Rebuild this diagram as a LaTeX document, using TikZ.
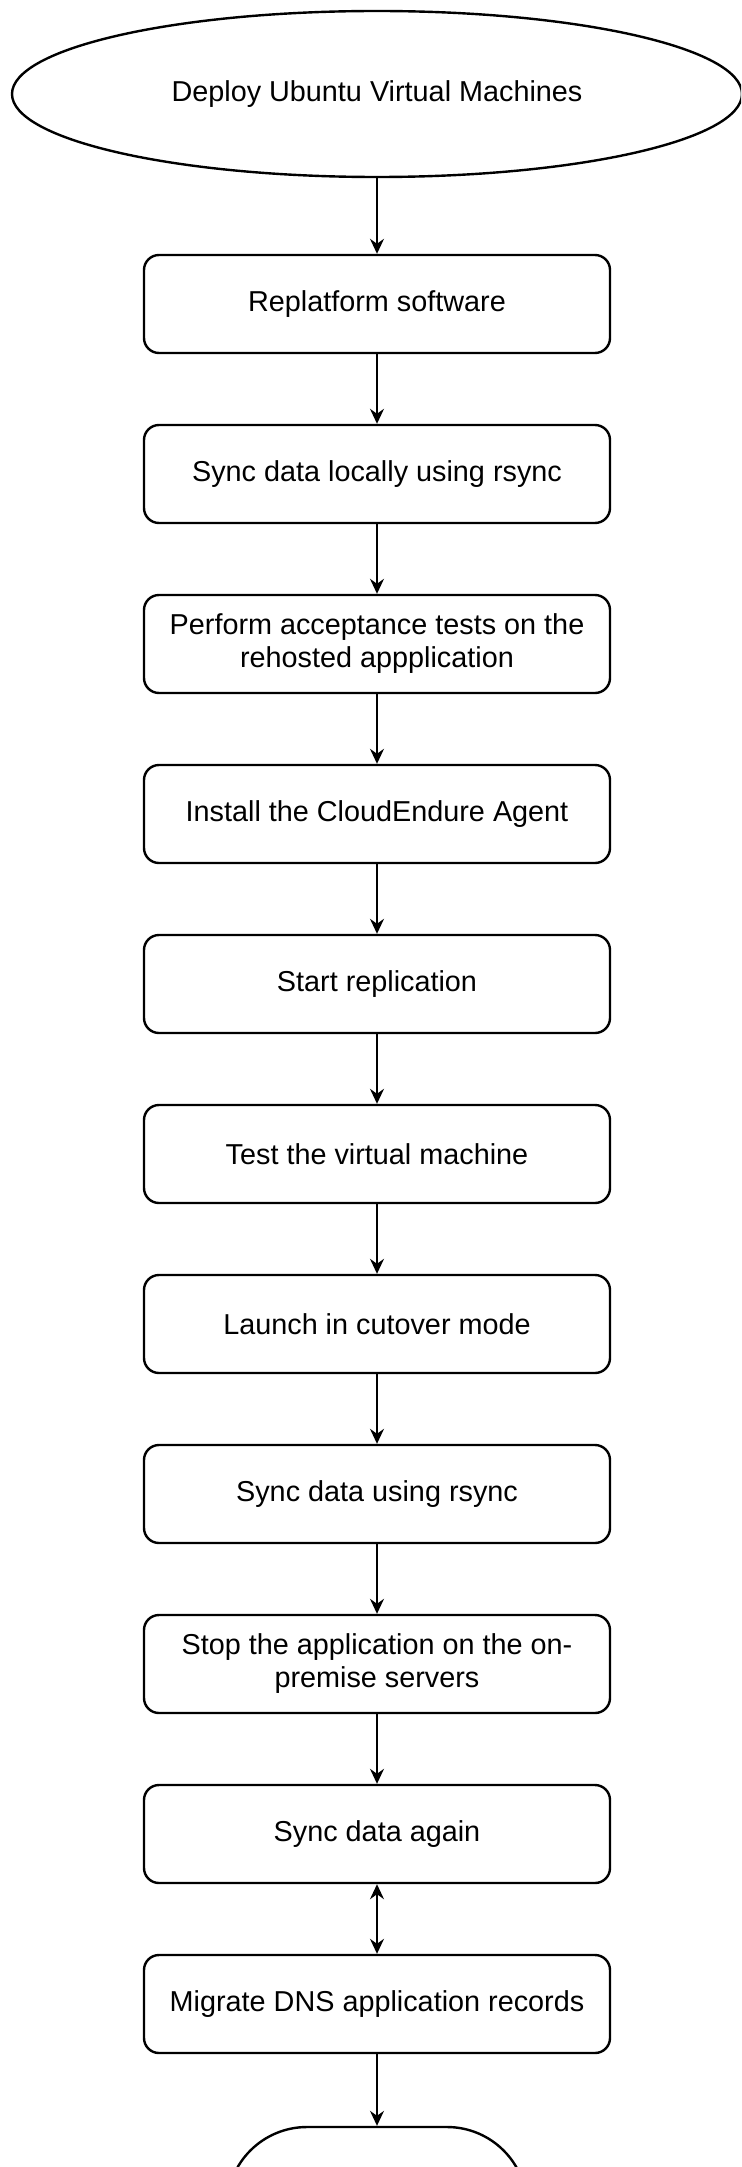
\documentclass[tikz,border=0pt]{standalone}
\usepackage{fontspec}
\setmainfont{Liberation Sans}
\usetikzlibrary{shapes,arrows.meta,positioning,shapes.geometric,calc}
\tikzset{
	boxfont/.style={font=\fontsize{14.4}{16.5}\selectfont},
	stepbox/.style={draw, line width=1.2pt, rounded corners=7.5pt, minimum width=233pt, minimum height=49pt, align=center, boxfont},
	startnode/.style={draw, ellipse, line width=1.2pt, minimum width=365pt, minimum height=83pt, boxfont},
	endnode/.style={draw, line width=1.2pt, rounded corners=40pt, minimum width=150pt, minimum height=80pt},
	flow/.style={line width=0.85pt, >={Stealth[length=7.5pt,width=7pt,inset=2.5pt]}, ->}
}
\begin{document}
\begin{tikzpicture}[x=0.5pt,y=-0.5pt]
			\useasboundingbox (0,0) rectangle (741,2167);
			\clip (0,0) rectangle (741,2167);
			
			\node[startnode] at (377,94) (deploy){Deploy Ubuntu Virtual Machines};
			\node[stepbox] at (377,304) (replatform){Replatform software};
			\node[stepbox] at (377,474) (synclocal){Sync data locally using rsync};
			\node[stepbox] at (377,644) (accept){Perform acceptance tests on the\\rehosted appplication};
			\node[stepbox] at (377,814) (agent){Install the CloudEndure Agent};
			\node[stepbox] at (377,984) (replicate){Start replication};
			\node[stepbox] at (377,1154) (testvm){Test the virtual machine};
			\node[stepbox] at (377,1324) (cutover){Launch in cutover mode};
			\node[stepbox] at (377,1494) (syncrsync){Sync data using rsync};
			\node[stepbox] at (377,1664) (stopapp){Stop the application on the on-\\premise servers};
			\node[stepbox] at (377,1834) (syncagain){Sync data again};
			\node[stepbox] at (377,2004) (dns){Migrate DNS application records};
			\node[endnode] at (377,2207) (finish){};
			
			\draw[flow] (deploy) to (replatform);
			\draw[flow] (replatform) to (synclocal);
			\draw[flow] (synclocal) to (accept);
			\draw[flow] (accept) to (agent);
			\draw[flow] (agent) to (replicate);
			\draw[flow] (replicate) to (testvm);
			\draw[flow] (testvm) to (cutover);
			\draw[flow] (cutover) to (syncrsync);
			\draw[flow] (syncrsync) to (stopapp);
			\draw[flow] (stopapp) to (syncagain);
			\draw[flow, <->] (syncagain) to (dns);
			\draw[flow] (dns) to (finish);
			\end{tikzpicture}
\end{document}
